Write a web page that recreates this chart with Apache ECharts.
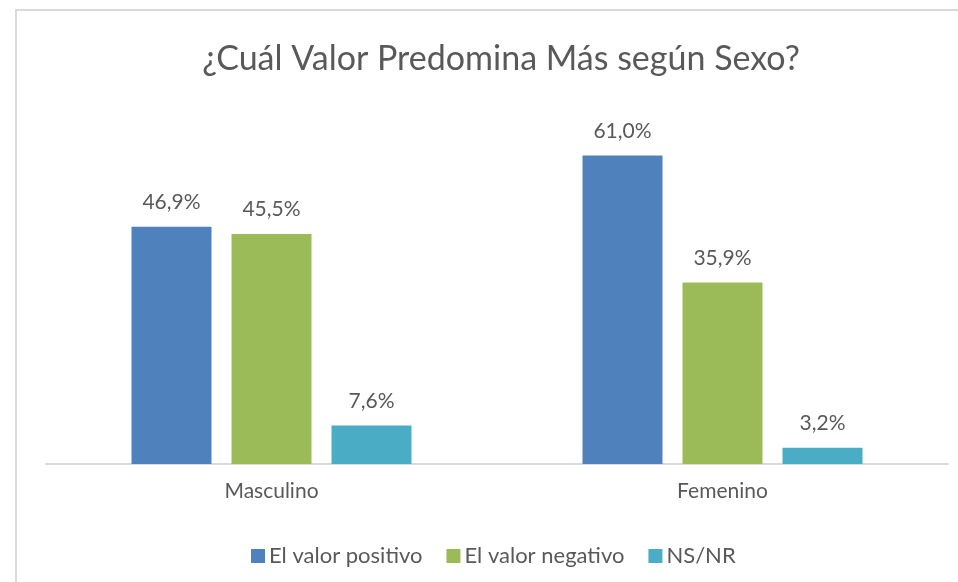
<!DOCTYPE html>
<html>
<head>
<meta charset="utf-8">
<script src="https://cdn.jsdelivr.net/npm/echarts@6/dist/echarts.min.js"></script>
<style>
	html, body { margin: 0; padding: 0; background: #fff; }
	#chart { width: 958px; height: 582px; }
</style>
</head>
<body>
<div id="chart"></div>
<script>
const categories = ['Masculino', 'Femenino']
const seriesNames = ['El valor positivo', 'El valor negativo', 'NS/NR']
const positivo = [46.9, 61.0]
const negativo = [45.5, 35.9]
const nsnr = [7.6, 3.2]

const colors = ['#4f81bd', '#9bbb59', '#4bacc6']
const fontColor = '#595959'
const font = 'Lato'

const myChart = echarts.init(document.getElementById('chart'))

const mkSeries = (name, data) => {
	return {
		name: name,
		type: 'bar',
		data: data,
		barWidth: 80,
		barGap: '25%',
		label: {
			show: true,
			position: 'top',
			distance: 14,
			color: fontColor,
			fontFamily: font,
			fontSize: 21,
			formatter: (p) => p.value.toFixed(1).replace('.', ',') + '%',
		},
		emphasis: { disabled: true },
	}
}

const options = {
	color: colors,
	animation: false,
	title: {
		text: '¿Cuál Valor Predomina Más según Sexo?',
		left: 496,
		top: 37,
		textAlign: 'center',
		textStyle: {
			color: fontColor,
			fontFamily: font,
			fontSize: 34,
			fontWeight: 'normal',
		},
	},
	graphic: [
		{
			type: 'rect',
			shape: { x: 16, y: 10, width: 1200, height: 800 },
			style: { fill: 'none', stroke: '#d9d9d9', lineWidth: 2 },
			silent: true,
		},
	],
	grid: {
		left: 46,
		right: 10,
		top: 110,
		bottom: 118,
		containLabel: false,
	},
	legend: {
		top: 540,
		left: 246,
		icon: 'rect',
		itemWidth: 14,
		itemHeight: 14,
		itemGap: 24,
		itemStyle: { borderWidth: 0 },
		textStyle: {
			color: fontColor,
			fontFamily: font,
			fontSize: 22,
			padding: [0, 0, 0, -1],
		},
		data: seriesNames,
	},
	xAxis: {
		type: 'category',
		data: categories,
		axisTick: { show: false },
		axisLine: { lineStyle: { color: '#d9d9d9', width: 2 } },
		axisLabel: {
			margin: 17,
			color: fontColor,
			fontFamily: font,
			fontSize: 21,
		},
	},
	yAxis: {
		type: 'value',
		min: 0,
		max: 70,
		show: false,
		splitLine: { show: false },
	},
	series: [
		mkSeries(seriesNames[0], positivo),
		mkSeries(seriesNames[1], negativo),
		mkSeries(seriesNames[2], nsnr),
	],
}

myChart.setOption(options)
</script>
</body>
</html>
